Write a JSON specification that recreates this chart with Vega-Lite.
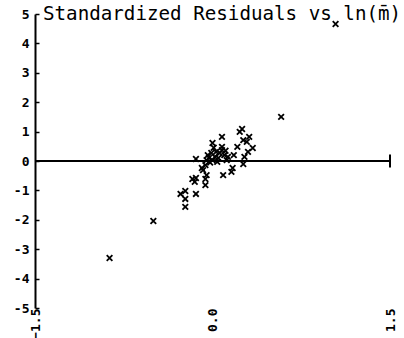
{
  "$schema": "https://vega.github.io/schema/vega-lite/v6.json",
  "width": 355,
  "height": 294,
  "autosize": "none",
  "padding": {"left": 35, "top": 14, "right": 14, "bottom": 30},
  "background": "white",
  "config": {
    "view": {"stroke": null},
    "axis": {"labelOverlap": false, "grid": false, "title": null, "labelFont": "DejaVu Sans Mono", "labelFontWeight": "bold", "labelFontSize": 13, "labelColor": "black"}
  },
  "title": {
    "text": "Standardized Residuals vs ln(m̄)",
    "font": "DejaVu Sans Mono",
    "fontSize": 19.2,
    "fontWeight": "normal",
    "anchor": "start",
    "frame": "group",
    "dx": 8,
    "offset": -16,
    "color": "black"
  },
  "datasets": {
    "pts": [
      {"x": -0.87, "y": -3.3}, {"x": -0.50, "y": -2.04}, {"x": -0.27, "y": -1.12}, {"x": -0.23, "y": -1.02},
      {"x": -0.23, "y": -1.29}, {"x": -0.23, "y": -1.56}, {"x": -0.14, "y": -1.12}, {"x": -0.17, "y": -0.61},
      {"x": -0.15, "y": -0.71}, {"x": -0.14, "y": -0.58}, {"x": -0.14, "y": 0.07}, {"x": -0.06, "y": -0.82},
      {"x": -0.06, "y": -0.61}, {"x": -0.08, "y": -0.31}, {"x": -0.09, "y": -0.24}, {"x": -0.05, "y": -0.48},
      {"x": -0.06, "y": -0.14}, {"x": -0.05, "y": 0.03}, {"x": -0.04, "y": 0.2}, {"x": -0.01, "y": 0.27},
      {"x": 0.0, "y": 0.61}, {"x": 0.0, "y": 0.03}, {"x": 0.02, "y": 0.14}, {"x": 0.03, "y": 0.31},
      {"x": 0.04, "y": -0.03}, {"x": 0.06, "y": 0.27}, {"x": 0.08, "y": 0.48}, {"x": 0.08, "y": 0.82},
      {"x": 0.08, "y": 0.37}, {"x": 0.10, "y": 0.2}, {"x": 0.09, "y": -0.48}, {"x": 0.12, "y": 0.03},
      {"x": 0.13, "y": 0.14}, {"x": 0.17, "y": -0.24}, {"x": 0.16, "y": -0.37}, {"x": 0.18, "y": 0.2},
      {"x": 0.21, "y": 0.48}, {"x": 0.25, "y": 1.09}, {"x": 0.23, "y": 0.99}, {"x": 0.26, "y": 0.71},
      {"x": 0.29, "y": 0.65}, {"x": 0.31, "y": 0.82}, {"x": 0.30, "y": 0.31}, {"x": 0.26, "y": -0.1},
      {"x": 0.27, "y": 0.14}, {"x": 0.34, "y": 0.44}, {"x": 0.58, "y": 1.5}, {"x": 1.04, "y": 4.66},
      {"x": -0.03, "y": 0.1}, {"x": 0.01, "y": 0.45}, {"x": -0.02, "y": -0.05}, {"x": 0.05, "y": 0.1},
      {"x": 0.11, "y": 0.35}
    ],
    "zero": [{"x": -1.5, "x2": 1.5, "y": 0}],
    "endtick": [{"x": 1.5, "y": -0.22, "y2": 0.22}]
  },
  "encoding": {
    "x": {"field": "x", "type": "quantitative", "scale": {"domain": [-1.5, 1.5], "nice": false, "zero": false},
      "axis": {"values": [-1.5, 0, 1.5], "labelExpr": "datum.value == 0 ? '0.0' : format(datum.value, '.1f')", "labelAngle": 270, "labelOverlap": false, "domain": false, "ticks": false, "labelPadding": 0}},
    "y": {"field": "y", "type": "quantitative", "scale": {"domain": [-5, 5], "nice": false},
      "axis": {"values": [-5, -4, -3, -2, -1, 0, 1, 2, 3, 4, 5], "labelOverlap": false, "labelExpr": "datum.value < 0 ? '-' + abs(datum.value) : '' + datum.value", "domainColor": "black", "domainWidth": 2, "tickColor": "black", "tickSize": -4, "tickWidth": 1.5, "labelPadding": 10}}
  },
  "layer": [
    {
      "data": {"name": "zero"},
      "mark": {"type": "rule", "color": "black", "strokeWidth": 2},
      "encoding": {"x2": {"field": "x2"}}
    },
    {
      "data": {"name": "endtick"},
      "mark": {"type": "rule", "color": "black", "strokeWidth": 2},
      "encoding": {"y2": {"field": "y2"}}
    },
    {
      "data": {"name": "pts"},
      "mark": {"type": "point", "shape": "M-1,-1L1,1M-1,1L1,-1", "filled": false, "stroke": "black", "strokeWidth": 1.8, "size": 32, "opacity": 1},
      "encoding": {}
    }
  ]
}
